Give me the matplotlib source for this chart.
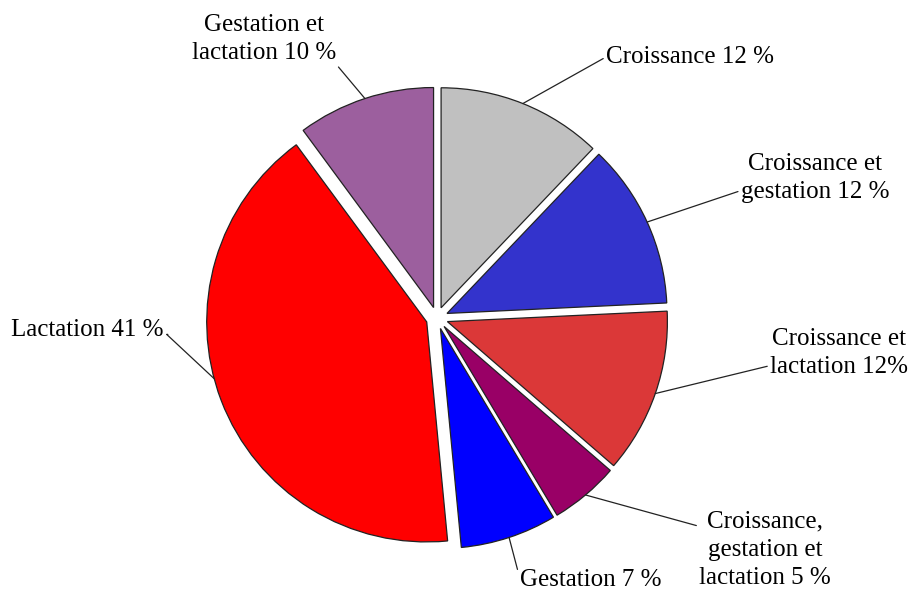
import numpy as np
import matplotlib.pyplot as plt

labels = ['Croissance 12 %', 'Croissance et\ngestation 12 %', 'Croissance et\nlactation 12%',
          'Croissance,\ngestation et\nlactation 5 %', 'Gestation 7 %', 'Lactation 41 %',
          'Gestation et\nlactation 10 %']
values = [12, 12, 12, 5, 7, 41, 10]
colors = ['#C0C0C0', '#3333CC', '#DB3838', '#990066', '#0000FF', '#FF0000', '#9C5F9E']
# label positions in image pixels (x, y from top)
label_pos = [(606, 57), (815, 178), (839, 353), (765, 550), (591, 580), (87, 330), (264, 39)]
label_ha = ['left', 'center', 'center', 'center', 'center', 'center', 'center']
# where the leader line leaves the label box
label_rel = [(0, 0.5), (0, 0.25), (0, 0.25), (0, 0.8), (0, 0.5), (1.03, 0.3), (1, 0)]
# where the leader touches the arc (fraction of the wedge's sweep)
anchor_frac = [0.5, 0.5, 0.5, 0.5, 0.5, 0.54, 0.5]

W, H = 913, 591
cx, cy, r = 437, H - 318, 220
expl = 0.05 * r  # pie explode is absolute, not scaled by radius

fig = plt.figure(figsize=(W / 100, H / 100), dpi=100)
ax = fig.add_axes([0, 0, 1, 1])

wedges, _ = ax.pie(values, colors=colors, startangle=90, counterclock=False,
                   center=(cx, cy), radius=r, explode=[expl] * len(values),
                   wedgeprops=dict(edgecolor='#222222', linewidth=0.9))
ax.set_xlim(0, W)
ax.set_ylim(0, H)
ax.set_aspect('equal')
ax.axis('off')

for i, w in enumerate(wedges):
    # counterclock=False -> theta2 is the start, theta1 the end
    ang = np.deg2rad(w.theta2 + (w.theta1 - w.theta2) * anchor_frac[i])
    ox, oy = w.center
    px = ox + r * np.cos(ang)
    py = oy + r * np.sin(ang)
    tx, ty = label_pos[i]
    props = dict(arrowstyle='-', color='#222222', lw=0.9,
                 shrinkA=0, shrinkB=0, relpos=label_rel[i])
    if labels[i].startswith('Lactation'):
        # short horizontal stub then down to the wedge
        props['connectionstyle'] = 'angle,angleA=0,angleB=-43,rad=0'
        props['patchA'] = None
    ax.annotate(labels[i], xy=(px, py), xytext=(tx, H - ty), ha=label_ha[i], va='center',
                multialignment='center', fontsize=18, family='Liberation Serif',
                linespacing=1.38, arrowprops=props)

fig.savefig('out.png', dpi=100)
